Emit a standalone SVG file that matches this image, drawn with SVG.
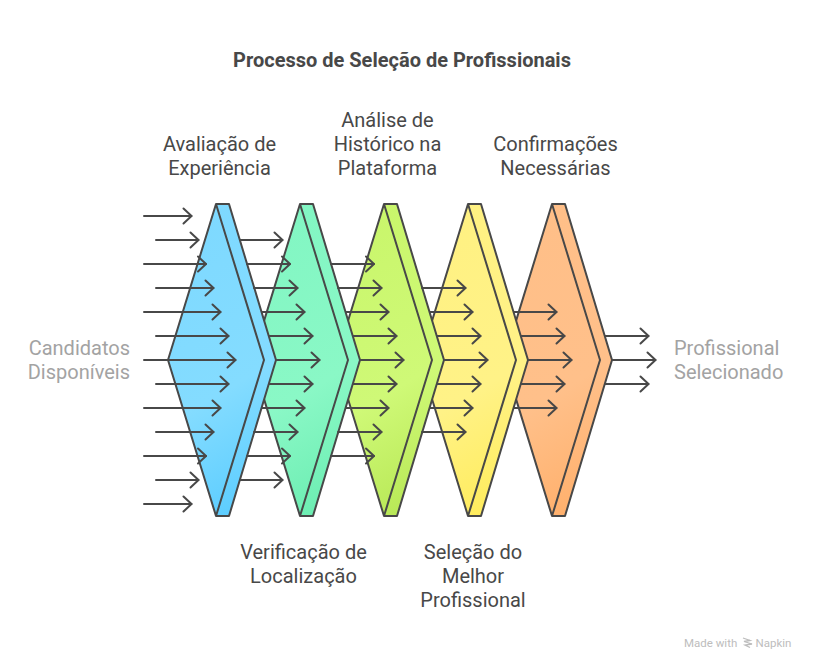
<svg xmlns="http://www.w3.org/2000/svg" width="816" height="670" viewBox="0 0 816 670">
<style>
text{font-family:Roboto,"Liberation Sans",sans-serif;font-size:20px}
.t{fill:#484848;text-anchor:middle}
.g{fill:#a3a3a3}
.e{text-anchor:end}
.title{font-weight:700;font-size:20px}
.wm{font-size:11.500px;fill:#bdbdbd}
.s{stroke:#484848;stroke-width:2;stroke-linejoin:round}
.c path{fill:none;stroke:#484848;stroke-width:2;stroke-linecap:round;stroke-linejoin:round;marker-end:url(#a)}
</style>
<defs>
<marker id="a" markerUnits="userSpaceOnUse" markerWidth="20" markerHeight="20" refX="11" refY="10" orient="auto" overflow="visible"><path d="M3 2.500L11 10L3 17.500" fill="none" stroke="#484848" stroke-width="2" stroke-linecap="round" stroke-linejoin="round"/></marker>
<linearGradient id="g1" x1="0.4" y1="0" x2="0.6" y2="1"><stop offset="0" stop-color="#7ed9ff"/><stop offset=".6" stop-color="#84dcff"/><stop offset="1" stop-color="#5ccdff"/></linearGradient>
<linearGradient id="g2" x1="0.4" y1="0" x2="0.6" y2="1"><stop offset="0" stop-color="#82f6c3"/><stop offset=".6" stop-color="#8af8c6"/><stop offset="1" stop-color="#6cedb2"/></linearGradient>
<linearGradient id="g3" x1="0.4" y1="0" x2="0.6" y2="1"><stop offset="0" stop-color="#c9f66b"/><stop offset=".6" stop-color="#cff977"/><stop offset="1" stop-color="#b8e856"/></linearGradient>
<linearGradient id="g4" x1="0.4" y1="0" x2="0.6" y2="1"><stop offset="0" stop-color="#fff182"/><stop offset=".6" stop-color="#fff287"/><stop offset="1" stop-color="#ffec5c"/></linearGradient>
<linearGradient id="g5" x1="0.4" y1="0" x2="0.6" y2="1"><stop offset="0" stop-color="#ffbf88"/><stop offset=".6" stop-color="#ffc08a"/><stop offset="1" stop-color="#ffb06c"/></linearGradient>
<g id="shape"><path class="s" d="M216 204H229L276 360L229 516H216L168 360Z"/><path class="s" fill="none" d="M216 204L264 360L216 516"/></g>
</defs>
<rect width="816" height="670" fill="#fff"/>
<text class="t title" x="402" y="67">Processo de Seleção de Profissionais</text>
<g id="n5"><use href="#shape" x="336" fill="url(#g5)"/></g>
<g id="n4"><use href="#shape" x="252" fill="url(#g4)"/></g>
<g id="n3"><use href="#shape" x="168" fill="url(#g3)"/></g>
<g id="n2"><use href="#shape" x="84" fill="url(#g2)"/></g>
<g id="n1"><use href="#shape" fill="url(#g1)"/></g>
<g id="connectors" class="c">
<path d="M144 216H191.500"/><path d="M156 240H198.500"/><path d="M144 264H206"/><path d="M156 288H213.500"/><path d="M144 312H220.500"/><path d="M156 336H228.500"/><path d="M144 360H235.500"/><path d="M156 384H228.500"/><path d="M144 408H220.500"/><path d="M156 432H213.500"/><path d="M144 456H206"/><path d="M156 480H198.500"/><path d="M144 504H191.500"/>
<path d="M240 240H282.500"/><path d="M247 264H290"/><path d="M254 288H297.500"/><path d="M262 312H304.500"/><path d="M269 336H312.500"/><path d="M276 360H319.500"/><path d="M269 384H312.500"/><path d="M262 408H304.500"/><path d="M254 432H297.500"/><path d="M247 456H290"/><path d="M240 480H282.500"/>
<path d="M331 264H374"/><path d="M338 288H381.500"/><path d="M346 312H388.500"/><path d="M353 336H396.500"/><path d="M360 360H403.500"/><path d="M353 384H396.500"/><path d="M346 408H388.500"/><path d="M338 432H381.500"/><path d="M331 456H374"/>
<path d="M422 288H465.500"/><path d="M430 312H472.500"/><path d="M437 336H480.500"/><path d="M444 360H487.500"/><path d="M437 384H480.500"/><path d="M430 408H472.500"/><path d="M422 432H465.500"/>
<path d="M514 312H556.500"/><path d="M521 336H564.500"/><path d="M528 360H571.500"/><path d="M521 384H564.500"/><path d="M514 408H556.500"/>
<path d="M605 336H648.500"/><path d="M612 360H655.500"/><path d="M605 384H648.500"/>
</g>
<g id="l-in"><text class="g e" x="130" y="354.500">Candidatos</text><text class="g e" x="130" y="378.500">Disponíveis</text></g>
<g id="l-out"><text class="g" x="674" y="354.500">Profissional</text><text class="g" x="674" y="378.500">Selecionado</text></g>
<g id="l1"><text class="t" x="219.500" y="150.500">Avaliação de</text><text class="t" x="219.500" y="174.500">Experiência</text></g>
<g id="l2"><text class="t" x="303.500" y="558.500">Verificação de</text><text class="t" x="303.500" y="582.500">Localização</text></g>
<g id="l3"><text class="t" x="387.500" y="126.500">Análise de</text><text class="t" x="387.500" y="150.500">Histórico na</text><text class="t" x="387.500" y="174.500">Plataforma</text></g>
<g id="l4"><text class="t" x="473" y="558.500">Seleção do</text><text class="t" x="473" y="582.500">Melhor</text><text class="t" x="473" y="606.500">Profissional</text></g>
<g id="l5"><text class="t" x="555.500" y="150.500">Confirmações</text><text class="t" x="555.500" y="174.500">Necessárias</text></g>
<g id="wm"><text class="wm" x="684" y="647">Made with</text><path d="M743 638L750 640.500L744 641.500L752 644L745 645L750 647.500" fill="none" stroke="#bdbdbd" stroke-width="1.300"/><text class="wm" x="755.500" y="647">Napkin</text></g>
</svg>
